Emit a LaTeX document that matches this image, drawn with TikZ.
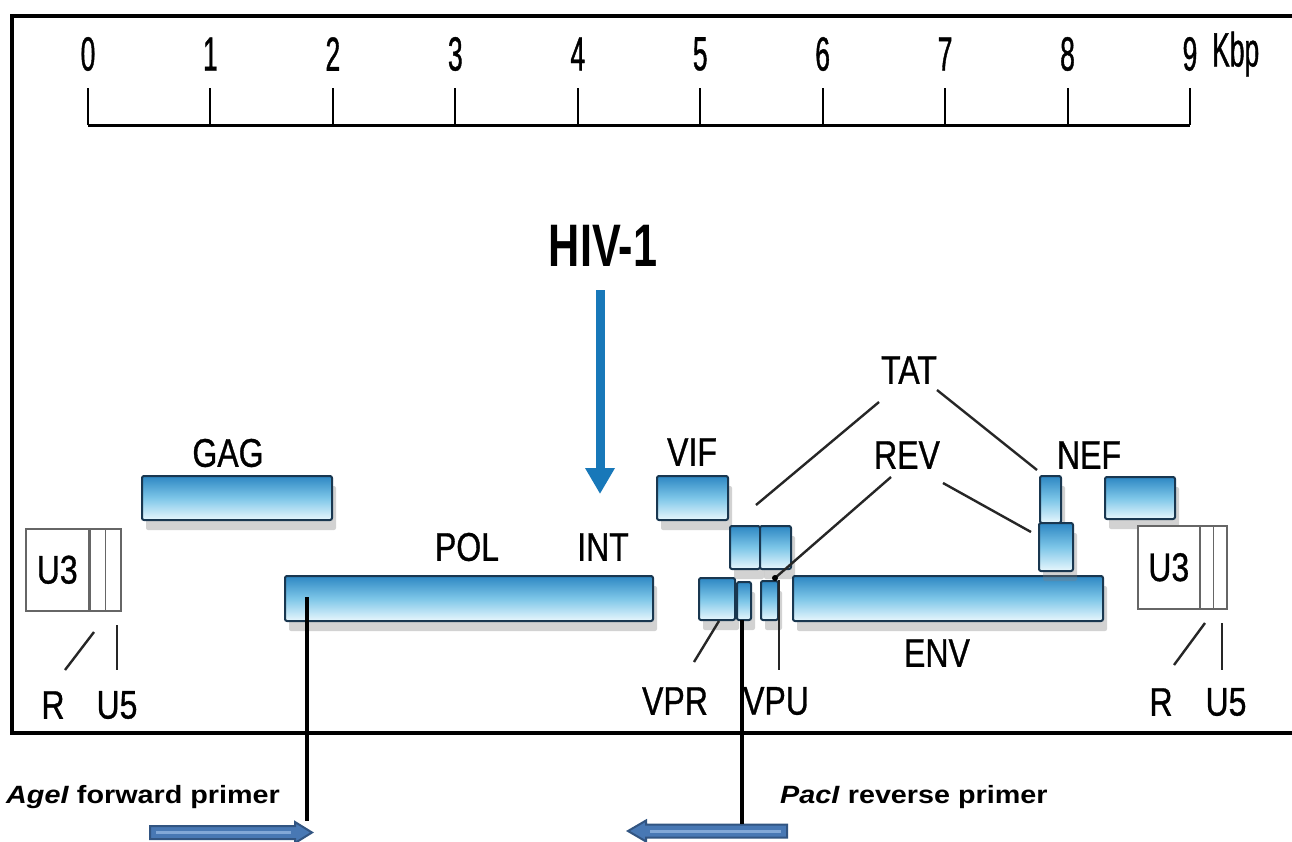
\documentclass[tikz,border=0pt]{standalone}
\usepackage{fontspec}
\setmainfont{Liberation Sans}
\newfontfamily\gfont[FakeStretch=0.8,FakeBold=0.8]{Liberation Sans}
\newfontfamily\dfont[FakeStretch=0.55,FakeBold=0.8]{Liberation Sans}
\newfontfamily\hfont[FakeStretch=0.72]{Liberation Sans}
\newfontfamily\pfont[FakeStretch=1.15]{Liberation Sans}
\usetikzlibrary{arrows.meta,shadows}
\definecolor{geneline}{RGB}{25,55,80}
\definecolor{genetop}{RGB}{45,135,195}
\definecolor{genemid}{RGB}{125,198,232}
\definecolor{genebot}{RGB}{232,247,253}
\definecolor{hivblue}{RGB}{24,120,185}
\definecolor{primerfill}{RGB}{72,120,180}
\definecolor{primerline}{RGB}{50,85,130}
\definecolor{primerlight}{RGB}{130,168,215}
\begin{document}
\begin{tikzpicture}[x=1pt,y=-1pt,
  gene/.style={draw=geneline, line width=2pt, top color=genetop, bottom color=genebot, middle color=genemid,
    inner sep=0pt, anchor=north west, rounded corners=2pt,
    drop shadow={shadow xshift=4pt, shadow yshift=-10pt, opacity=0.35}},
  ltrbox/.style={draw=black!60, line width=1.5pt, fill=white, inner sep=0pt, anchor=north west},
  lbl/.style={font=\gfont\fontsize{40}{40}\selectfont, inner sep=0pt},
  digit/.style={font=\dfont\fontsize{48}{48}\selectfont, inner sep=0pt},
  leader/.style={line width=2.4pt, black!85},
  primerarrow/.style={fill=primerfill, draw=primerline, line width=2pt, line join=miter},
  primertext/.style={font=\pfont\bfseries\fontsize{25}{25}\selectfont, inner sep=0pt, anchor=base west}]
\useasboundingbox (0,0) rectangle (1292,841);
\fill[white] (0,0) rectangle (1292,841);

% frame
\draw[line width=4pt] (12,16) rectangle (1320,733);

% ruler
\draw[line width=3pt] (88,125) -- (1190,125);
\foreach \i in {0,...,9} {
  \pgfmathsetmacro\xx{88+122.44*\i}
  \draw[line width=2pt] (\xx,88) -- (\xx,125);
  \node[digit] (d\i) at (\xx,54) {\i};
}
\node[digit, anchor=west] (kbp) at (1212,54) {Kbp};

% HIV-1 label and arrow
\node[font=\hfont\bfseries\fontsize{60}{60}\selectfont, inner sep=0pt] (hiv) at (603,246) {HIV-1};
\coordinate (hivtop) at (600,290);
\coordinate (hivtip) at (600,494);
\draw[hivblue, line width=9pt, -{Triangle[width=28pt,length=26pt]}] (hivtop) -- (hivtip);

% gene bars
\node[gene, minimum width=190pt, minimum height=44pt] (gag) at (141,475) {};
\node[gene, minimum width=368pt, minimum height=45pt] (pol) at (284,575) {};
\node[gene, minimum width=71pt, minimum height=44pt] (vif) at (656,475) {};
\node[gene, minimum width=30pt, minimum height=43pt] (tat1) at (729,525) {};
\node[gene, minimum width=31pt, minimum height=43pt] (rev1) at (759,525) {};
\node[gene, minimum width=36pt, minimum height=42pt] (vpr) at (698,577) {};
\node[gene, minimum width=14pt, minimum height=38pt] (vpua) at (736,581) {};
\node[gene, minimum width=17pt, minimum height=39pt] (vpub) at (760,580) {};
\node[gene, minimum width=310pt, minimum height=45pt] (env) at (792,575) {};
\node[gene, minimum width=21pt, minimum height=47pt] (tat2) at (1039,475) {};
\node[gene, minimum width=34pt, minimum height=48pt] (rev2) at (1038,522) {};
\node[gene, minimum width=70pt, minimum height=42pt] (nef) at (1104,476) {};

% LTRs
\node[ltrbox, minimum width=63pt, minimum height=82pt] (u3l) at (25,528) {};
\node[ltrbox, minimum width=31pt, minimum height=82pt] (rul) at (89,528) {};
\draw[black!60, line width=1.5pt] (rul.north) -- (rul.south);
\node[ltrbox, minimum width=62pt, minimum height=83pt] (u3r) at (1137,525) {};
\node[ltrbox, minimum width=27pt, minimum height=83pt] (rur) at (1199,525) {};
\draw[black!60, line width=1.5pt] (rur.north) -- (rur.south);
\node[lbl] (u3ltext) at (u3l.center) {U3};
\node[lbl] (u3rtext) at (u3r.center) {U3};

% labels
\node[lbl] (gagl) at (228,453) {GAG};
\node[lbl] (poll) at (467,547) {POL};
\node[lbl] (intl) at (603,547) {INT};
\node[lbl] (vifl) at (692,452) {VIF};
\node[lbl] (tatl) at (909,370) {TAT};
\node[lbl] (revl) at (907,455) {REV};
\node[lbl] (nefl) at (1089,455) {NEF};
\node[lbl] (envl) at (937,653) {ENV};
\node[lbl] (vprl) at (675,701) {VPR};
\node[lbl] (vpul) at (776,701) {VPU};
\node[lbl] (rl) at (53,705) {R};
\node[lbl] (u5l) at (117,705) {U5};
\node[lbl] (rr) at (1161,702) {R};
\node[lbl] (u5r) at (1226,702) {U5};

% leader lines
\coordinate (t1a) at (879,402); \coordinate (t1b) at (756,505);
\coordinate (t2a) at (937,390); \coordinate (t2b) at (1037,470);
\coordinate (r1a) at (891,477); \coordinate (r1b) at (775,578);
\coordinate (r2a) at (943,483); \coordinate (r2b) at (1031,532);
\draw[leader] (t1a) -- (t1b);
\draw[leader] (t2a) -- (t2b);
\draw[leader] (r1a) -- (r1b);
\draw[leader] (r2a) -- (r2b);
\fill (r1b) circle (3pt);
\coordinate (vpra) at (719,621); \coordinate (vprb) at (694,662);
\draw[leader] (vpra) -- (vprb);
\coordinate (vpua) at (779,580); \coordinate (vpub) at (779,670);
\draw[leader] (vpua) -- (vpub);
\coordinate (rla) at (94,632); \coordinate (rlb) at (65,670);
\draw[leader] (rla) -- (rlb);
\draw[leader] (117,625) -- (117,670);
\coordinate (rra) at (1205,623); \coordinate (rrb) at (1174,665);
\draw[leader] (rra) -- (rrb);
\draw[leader] (1222,623) -- (1222,670);

% primers
\filldraw[primerarrow] (150,826) -- (295,826) -- (295,822) -- (312,832.5) -- (295,843) -- (295,839) -- (150,839) -- cycle;
\draw[primerlight, line width=3pt] (156,832.5) -- (291,832.5);
\filldraw[primerarrow] (787,824.5) -- (646,824.5) -- (646,820.5) -- (628,831) -- (646,841.5) -- (646,837.5) -- (787,837.5) -- cycle;
\draw[primerlight, line width=3pt] (650,831) -- (781,831);
\coordinate (fwdtop) at (307,597);
\coordinate (fwdend) at (307,821);
\coordinate (revtop) at (742,620);
\coordinate (revend) at (742,824);
\draw[line width=3.5pt] (fwdtop) -- (fwdend);
\draw[line width=3.5pt] (revtop) -- (revend);
\node[primertext] (fwdt) at (6,803) {\textit{AgeI} forward primer};
\node[primertext] (revt) at (780,803) {\textit{PacI} reverse primer};
\end{tikzpicture}
\end{document}
